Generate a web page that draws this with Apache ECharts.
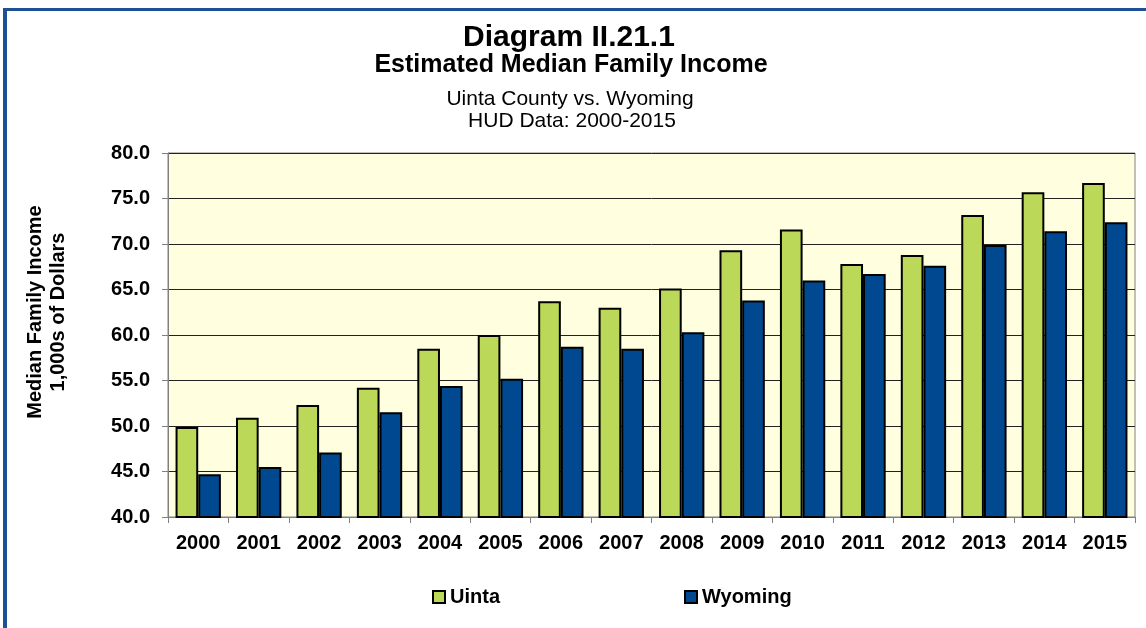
<!DOCTYPE html>
<html>
<head>
<meta charset="utf-8">
<title>Diagram II.21.1</title>
<script src="https://cdn.jsdelivr.net/npm/echarts@6/dist/echarts.min.js"></script>
<style>
  html, body { margin: 0; padding: 0; background: #fff; }
  #frame {
    position: absolute; left: 3px; top: 8px; width: 1150px; height: 630px;
    border-top: 3px solid #1f5096; border-left: 4px solid #1f5096;
  }
  #chart { position: absolute; left: 0; top: 0; width: 1146px; height: 628px; }
</style>
</head>
<body>
<div id="frame"></div>
<div id="chart"></div>
<script>
const years = ['2000', '2001', '2002', '2003', '2004', '2005', '2006', '2007',
  '2008', '2009', '2010', '2011', '2012', '2013', '2014', '2015']
// median family income, 1,000s of dollars
const uinta = [49.9, 50.9, 52.3, 54.2, 58.5, 60.0, 63.7, 63.0, 65.1, 69.3, 71.6, 67.8, 68.8, 73.2, 75.7, 76.7]
const wyoming = [44.7, 45.5, 47.1, 51.5, 54.4, 55.2, 58.7, 58.5, 60.3, 63.8, 66.0, 66.7, 67.6, 69.9, 71.4, 72.4]

const font = 'Arial, "Liberation Sans", sans-serif'

const chart = echarts.init(document.getElementById('chart'))

chart.setOption({
  animation: false,
  textStyle: { fontFamily: font },
  title: [
    { text: 'Diagram II.21.1', left: 564, top: 18, textAlign: 'center',
      textStyle: { fontSize: 30, fontWeight: 'bold', color: '#000' } },
    { text: 'Estimated Median Family Income', left: 566, top: 48, textAlign: 'center',
      textStyle: { fontSize: 25, fontWeight: 'bold', color: '#000' } },
    { text: 'Uinta County vs. Wyoming', left: 565, top: 84, textAlign: 'center',
      textStyle: { fontSize: 21, fontWeight: 'normal', color: '#000' } },
    { text: 'HUD Data: 2000-2015', left: 567, top: 106, textAlign: 'center',
      textStyle: { fontSize: 21, fontWeight: 'normal', color: '#000' } }
  ],
  graphic: [{
    type: 'text',
    x: 47,
    y: 312,
    rotation: Math.PI / 2,
    style: {
      text: 'Median Family Income\n1,000s of Dollars',
      fontFamily: font,
      fontSize: 20,
      fontWeight: 'bold',
      lineHeight: 23,
      fill: '#000',
      align: 'center',
      verticalAlign: 'middle'
    }
  }],
  legend: {
    left: 427,
    top: 582,
    itemWidth: 12,
    itemHeight: 12,
    itemGap: 184,
    icon: 'rect',
    textStyle: { fontSize: 20, fontWeight: 'bold', color: '#000' },
    data: ['Uinta', 'Wyoming']
  },
  grid: {
    left: 168,
    right: 11,
    top: 153,
    bottom: 111,
    show: true,
    backgroundColor: '#ffffe0',
    borderColor: '#808080',
    borderWidth: 1
  },
  xAxis: {
    type: 'category',
    data: years,
    axisLine: { lineStyle: { color: '#808080', width: 1 } },
    axisTick: { show: true, length: 6, interval: 0, lineStyle: { color: '#808080' } },
    axisLabel: { margin: 16, fontSize: 20, fontWeight: 'bold', color: '#000', interval: 0 }
  },
  yAxis: {
    type: 'value',
    min: 40,
    max: 80,
    interval: 5,
    axisLine: { show: true, lineStyle: { color: '#808080', width: 1 } },
    axisTick: { show: true, length: 6, lineStyle: { color: '#808080' } },
    axisLabel: {
      margin: 18,
      fontSize: 20,
      fontWeight: 'bold',
      color: '#000',
      formatter: v => v.toFixed(1)
    },
    splitLine: { lineStyle: { color: '#222', width: 1 } }
  },
  series: [
    {
      name: 'Uinta',
      type: 'bar',
      data: uinta,
      barGap: '0%',
      barCategoryGap: '25%',
      itemStyle: { color: '#bcd858', borderColor: '#000', borderWidth: 2 }
    },
    {
      name: 'Wyoming',
      type: 'bar',
      data: wyoming,
      itemStyle: { color: '#004990', borderColor: '#000', borderWidth: 2 }
    }
  ]
})
</script>
</body>
</html>
